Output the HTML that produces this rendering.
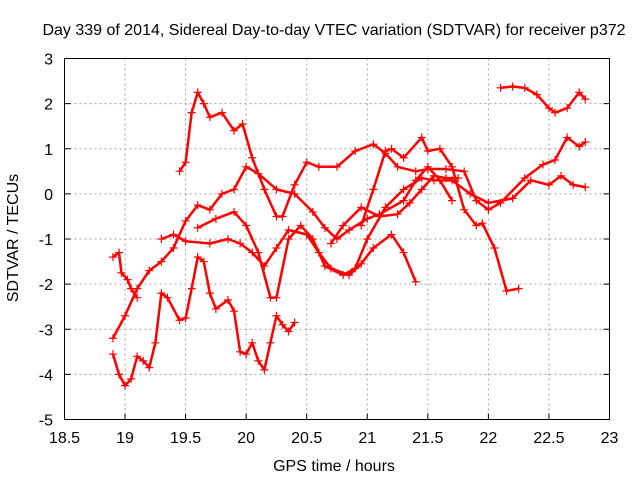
<!DOCTYPE html>
<html><head><meta charset="utf-8"><style>
body{margin:0;background:#fff}
svg{display:block;font-family:"Liberation Sans",sans-serif}
</style></head><body>
<svg id="chart" width="640" height="480" viewBox="0 0 640 480">
<rect width="640" height="480" fill="#fff"/>
<g id="grid"></g>
<g id="series"></g>
<rect x="64.5" y="58.5" width="545" height="361" fill="none" stroke="#000" stroke-width="1"/>
<g id="ticks"></g>
<text x="334" y="35" text-anchor="middle" font-size="16">Day 339 of 2014, Sidereal Day-to-day VTEC variation (SDTVAR) for receiver p372</text>
<text x="334" y="471" text-anchor="middle" font-size="16">GPS time / hours</text>
<text x="18" y="238" text-anchor="middle" font-size="16" transform="rotate(-90 18 238)">SDTVAR / TECUs</text>
</svg>
<script>
const xTicks=[18.5,19,19.5,20,20.5,21,21.5,22,22.5,23];
const yTicks=[-5,-4,-3,-2,-1,0,1,2,3];
const s1=[[19.45,0.5],[19.5,0.7],[19.55,1.8],[19.6,2.25],[19.65,2.0],[19.7,1.7],[19.8,1.8],[19.9,1.4],[19.97,1.55],[20.05,0.8],[20.15,0.1],[20.25,-0.5],[20.3,-0.5],[20.4,0.2],[20.5,0.7],[20.6,0.6],[20.75,0.6],[20.9,0.95],[21.05,1.1],[21.15,0.9],[21.25,0.6],[21.4,0.5],[21.5,0.55],[21.65,0.55],[21.8,0.5],[21.9,-0.15],[22.0,-0.35],[22.1,-0.2],[22.3,0.35],[22.45,0.65],[22.55,0.75],[22.65,1.25],[22.75,1.05],[22.8,1.15]];
const s2=[[22.1,2.35],[22.2,2.38],[22.3,2.35],[22.4,2.2],[22.5,1.9],[22.55,1.8],[22.65,1.9],[22.75,2.25],[22.8,2.1]];
const s3=[[18.9,-1.4],[18.95,-1.3],[18.97,-1.75],[19.02,-1.9],[19.05,-2.1],[19.1,-2.3]];
const s4=[[18.9,-3.2],[19.0,-2.7],[19.1,-2.1],[19.2,-1.7],[19.3,-1.5],[19.4,-1.2],[19.5,-0.6],[19.6,-0.25],[19.7,-0.35],[19.8,0.0],[19.9,0.1],[20.0,0.6],[20.1,0.45],[20.25,0.1],[20.4,0.0],[20.55,-0.4],[20.65,-0.75],[20.75,-1.0],[20.85,-0.8],[21.0,-0.55],[21.1,-0.45],[21.3,-0.15],[21.4,0.3],[21.5,0.6],[21.6,0.3],[21.7,-0.15]];
const s5=[[19.6,-0.75],[19.75,-0.55],[19.9,-0.4],[20.0,-0.7],[20.1,-1.3],[20.2,-2.3],[20.25,-2.3],[20.35,-1.0],[20.45,-0.7],[20.55,-1.0],[20.65,-1.6],[20.8,-1.8],[20.9,-1.65],[21.0,-1.0],[21.15,-0.3],[21.3,0.1],[21.45,0.35],[21.55,0.3],[21.7,0.3],[21.85,0.0],[22.0,-0.2],[22.2,-0.1],[22.35,0.3],[22.5,0.2],[22.6,0.4],[22.7,0.2],[22.8,0.15]];
const s6=[[20.95,-0.7],[21.05,0.1],[21.15,0.95],[21.2,1.0],[21.3,0.8],[21.45,1.25],[21.5,0.95],[21.6,1.0],[21.7,0.6],[21.8,-0.35],[21.9,-0.7],[21.95,-0.65],[22.05,-1.2],[22.15,-2.15],[22.25,-2.1]];
const s7=[[19.3,-1.0],[19.4,-0.9],[19.5,-1.05],[19.7,-1.1],[19.85,-1.0],[19.95,-1.1],[20.05,-1.3],[20.15,-1.6],[20.25,-1.2],[20.35,-0.8],[20.5,-0.9],[20.6,-1.3],[20.7,-1.65],[20.85,-1.8],[20.95,-1.55],[21.05,-1.2],[21.2,-0.9],[21.3,-1.3],[21.4,-1.95]];
const s8=[[18.9,-3.55],[18.95,-4.0],[19.0,-4.25],[19.05,-4.1],[19.1,-3.6],[19.15,-3.7],[19.2,-3.85],[19.25,-3.3],[19.3,-2.2],[19.35,-2.3],[19.45,-2.8],[19.5,-2.75],[19.55,-2.1],[19.6,-1.4],[19.65,-1.5],[19.7,-2.2],[19.75,-2.55],[19.85,-2.35],[19.9,-2.6],[19.95,-3.5],[20.0,-3.55],[20.05,-3.3],[20.1,-3.7],[20.15,-3.9],[20.2,-3.3],[20.25,-2.7],[20.3,-2.9],[20.35,-3.05],[20.4,-2.85]];
const s9=[[20.7,-1.1],[20.8,-0.7],[20.95,-0.3],[21.1,-0.5],[21.25,-0.45],[21.35,-0.2],[21.45,0.1],[21.55,0.4],[21.65,0.35],[21.75,0.35]];
const allSeries=[s1,s2,s3,s4,s5,s6,s7,s8,s9];
const NS="http://www.w3.org/2000/svg";
const X0=64.5,X1=609.5,Y0=419.5,Y1=58.5;
function xs(v){return X0+(v-18.5)/(23-18.5)*(X1-X0);}
function ys(v){return Y0-(v+5)/8*(Y0-Y1);}
function mk(t,a,p){const e=document.createElementNS(NS,t);for(const k in a)e.setAttribute(k,a[k]);p.appendChild(e);return e;}
const grid=document.getElementById('grid'),ticks=document.getElementById('ticks'),ser=document.getElementById('series');
xTicks.forEach(v=>{const x=xs(v);
 if(v>18.5&&v<23){const l=mk('line',{x1:x,x2:x,y1:Y1,y2:Y0,stroke:'#a0a0a0','stroke-dasharray':'2,3'},grid);
 
 }
 const t=mk('line',{x1:x,x2:x,y1:Y0,y2:Y0-6,stroke:'#000'},ticks);
 
 
 const tx=mk('text',{x:x,y:443,'text-anchor':'middle','font-size':'16'},ticks);tx.textContent=v;
 
 
});
yTicks.forEach(v=>{const y=ys(v);
 if(v>-5&&v<3){const l=mk('line',{x1:X0,x2:X1,y1:y,y2:y,stroke:'#a0a0a0','stroke-dasharray':'2,3'},grid);
 
 }
 const t=mk('line',{x1:X0,x2:X0+6,y1:y,y2:y,stroke:'#000'},ticks);
 
 
 const t2=mk('line',{x1:X1,x2:X1-6,y1:y,y2:y,stroke:'#000'},ticks);
 
 
 const tx=mk('text',{x:53,y:y+6,'text-anchor':'end','font-size':'16'},ticks);tx.textContent=v;
 
 
});
allSeries.forEach((s,i)=>{
 const g=mk('g',{},ser);
 
 
 const pl=mk('polyline',{points:s.map(p=>xs(p[0])+','+ys(p[1])).join(' '),fill:'none',stroke:'#ff0000','stroke-width':'2.5','stroke-linejoin':'round'},g);
 
 
 s.forEach(p=>{const x=xs(p[0]),y=ys(p[1]);
  const m=mk('path',{d:`M${x-4},${y}H${x+4}M${x},${y-4}V${y+4}`,stroke:'#ff0000','stroke-width':'1.2'},g);
  
  
 });
});
</script>
</body></html>
